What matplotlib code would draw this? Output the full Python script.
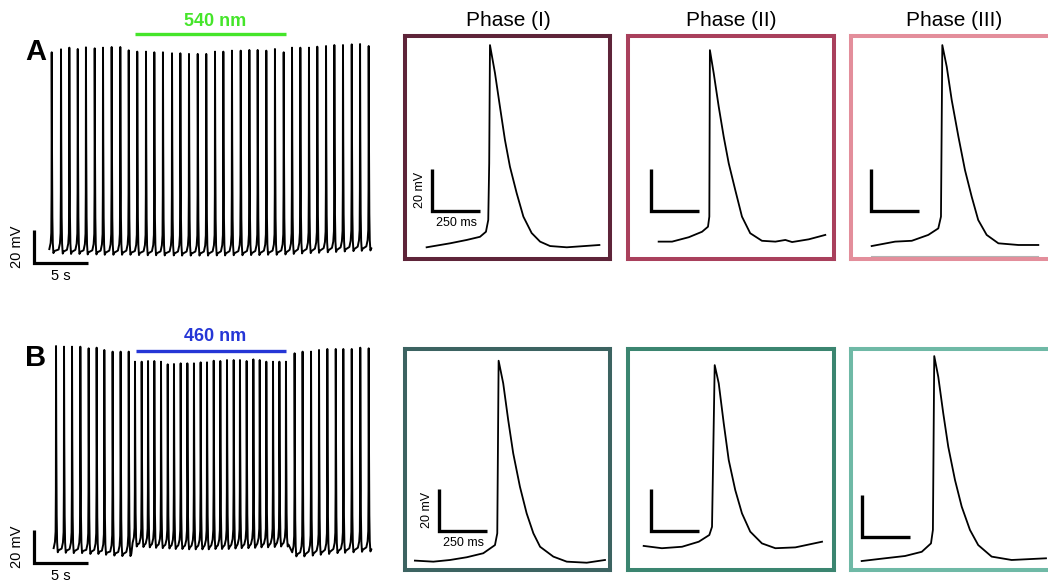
import matplotlib.pyplot as plt

plt.rcParams['font.family'] = ['Liberation Sans', 'DejaVu Sans']

W, H = 1048, 582

# ---- long recordings: spike times (s), peaks and troughs (mV) ----
a_spike_t = [1.64, 2.50, 3.27, 4.05, 4.81, 5.62, 6.39, 7.19, 7.99, 8.77,
             9.56, 10.37, 11.14, 11.94, 12.78, 13.55, 14.35, 15.16, 15.95,
             16.76, 17.53, 18.33, 19.14, 19.94, 20.71, 21.51, 22.31, 23.12,
             23.89, 24.66, 25.46, 26.23, 27.04, 27.81, 28.61, 29.42, 30.19, 30.99]
a_peak = [57.7, 59.5, 60.5, 59.7, 60.7, 60.1, 60.5, 60.9, 60.9, 58.9,
          58.1, 58.1, 57.7, 57.7, 57.1, 57.1, 56.7, 56.7, 56.7,
          58.1, 58.1, 58.7, 58.7, 59.1, 59.1, 58.7, 59.7, 57.7,
          60.5, 60.5, 60.5, 61.1, 61.5, 62.1, 62.1, 62.5, 62.7, 61.5]
a_trough = [-64.0, -64.3, -64.5, -64.5, -64.8, -64.8, -65.0, -65.0, -65.0, -65.0,
            -65.2, -65.3, -65.3, -65.4, -65.4, -65.5, -65.5, -65.5, -65.5,
            -65.4, -65.4, -65.3, -65.3, -65.2, -65.2, -65.0, -65.0, -64.8,
            -64.5, -64.2, -64.0, -63.8, -63.5, -63.3, -63.0, -62.8, -62.6, -62.4]
a_light = (9.35, 23.3)
a_label = '540 nm'

b_spike_t = [2.04, 2.78, 3.52, 4.29, 5.06, 5.80, 6.51, 7.28, 8.02, 8.77,
             9.35, 9.97, 10.56, 11.14, 11.76, 12.38, 12.96, 13.58, 14.20, 14.81,
             15.43, 16.02, 16.64, 17.25, 17.87, 18.49, 19.07, 19.69, 20.31, 20.90,
             21.51, 22.13, 22.72, 23.33,
             24.13, 24.87, 25.65, 26.39, 27.16, 27.94, 28.64, 29.42, 30.21, 30.99]
b_peak = [61.5, 61.1, 61.1, 61.1, 60.1, 60.5, 59.1, 58.1, 58.1, 58.1,
          52.0, 52.0, 52.4, 52.4, 52.0, 50.4, 50.6, 51.0, 51.0, 51.0,
          51.6, 51.6, 52.6, 52.4, 53.0, 53.0, 53.0, 52.4, 53.4, 53.0,
          52.0, 52.0, 52.0, 52.0,
          57.1, 58.1, 58.1, 59.1, 59.7, 59.7, 59.7, 59.7, 60.5, 60.1]
b_trough = [-63.5, -63.8, -64.0, -64.0, -64.5, -64.5, -65.0, -65.5, -65.8, -65.8,
            -60.0, -60.3, -60.5, -60.8, -61.0, -61.2, -61.5, -61.5, -61.7, -61.7,
            -61.7, -61.7, -61.5, -61.5, -61.5, -61.2, -61.0, -61.0, -60.8, -60.5,
            -60.5, -60.3, -60.0, -60.0,
            -66.0, -66.0, -65.5, -65.0, -64.5, -64.0, -63.8, -63.5, -63.2, -63.0]
b_light = (9.44, 23.33)
b_label = '460 nm'

# shape of one spike in the long recordings (s from peak, fraction of height)
shape_dt = [-0.22, -0.10, -0.04, -0.015, 0.0, 0.025, 0.06, 0.10, 0.16, 0.24]
shape_frac = [0.02, 0.05, 0.10, 0.30, 1.0, 0.55, 0.18, 0.05, 0.0, 0.01]

# ---- single action potentials per phase (ms, mV) ----
phases = ['Phase (I)', 'Phase (II)', 'Phase (III)']

top1_t = [123, 245, 332, 401, 432, 444, 449, 453, 479, 505, 531, 557, 592, 627, 670, 714, 766, 853, 1023]
top1_v = [-63.0, -61.1, -59.5, -58.0, -55.6, -50.0, -22.9, 33.3, 20.0, 3.9, -11.9, -24.6, -37.2, -48.4,
          -56.2, -60.3, -62.4, -63.0, -61.9]
top2_t = [170, 240, 327, 396, 427, 434, 437, 457, 483, 509, 535, 569, 604, 647, 708, 778, 830, 865, 952, 1038]
top2_v = [-60.3, -60.3, -58.2, -55.6, -53.2, -48.4, 30.9, 19.8, 3.9, -10.4, -23.0, -35.7, -48.4, -56.3,
          -59.9, -60.3, -59.5, -60.5, -59.2, -57.1]
top3_t = [118, 240, 327, 413, 465, 479, 486, 509, 535, 570, 604, 639, 673, 717, 778, 882, 986]
top3_v = [-62.4, -60.3, -59.9, -57.1, -54.0, -48.4, 33.3, 23.0, 7.1, -10.4, -26.2, -38.9, -50.0, -57.1,
          -61.1, -61.9, -61.9]

bot1_t = [62, 158, 245, 332, 418, 479, 491, 498, 522, 548, 574, 609, 644, 679, 714, 783, 853, 957, 1052]
bot1_v = [-64.1, -64.6, -63.8, -62.5, -60.6, -56.7, -51.1, 31.1, 20.3, 2.8, -13.0, -28.9, -41.6, -51.1,
          -57.5, -62.2, -64.6, -65.1, -63.8]
bot2_t = [92, 187, 292, 379, 434, 448, 462, 483, 509, 535, 569, 604, 647, 708, 778, 882, 1021]
bot2_v = [-57.1, -58.2, -57.5, -55.1, -51.9, -48.0, 29.0, 20.3, 1.3, -16.2, -30.5, -41.6, -50.3, -55.9,
          -58.2, -57.8, -55.1]
bot3_t = [66, 187, 292, 379, 427, 437, 444, 465, 491, 517, 552, 587, 630, 673, 743, 847, 1026]
bot3_v = [-64.3, -63.0, -61.9, -59.9, -55.9, -49.5, 33.3, 23.4, 6.0, -9.9, -25.7, -38.4, -49.5, -56.7,
          -62.2, -63.8, -63.0]

top_colors = ['#5e2439', '#a9405c', '#e38e9b']
bot_colors = ['#3c6361', '#3b8570', '#6fb9a6']

# scale bar corners inside the boxes (ms, mV)
top_bars = [(153, -45.7), (130, -45.7), (115, -45.7)]
bot_bars = [(189, -49.9), (132, -49.9), (66, -52.7)]

fig = plt.figure(figsize=(W / 100, H / 100), dpi=100)


def px_axes(x0, y0, x1, y1):
    return fig.add_axes([x0 / W, 1 - y1 / H, (x1 - x0) / W, (y1 - y0) / H])


def long_trace(ts, peaks, troughs):
    t, v = [], []
    for ti, p, b in zip(ts, peaks, troughs):
        for d, f in zip(shape_dt, shape_frac):
            t.append(ti + d)
            v.append(b + f * (p - b))
    return t, v


PX_S, PX_MVL = 10.8, 1.65   # long traces
PX_MS, PX_MV = 0.192, 2.1   # single APs


def long_panel(y_top, ts, peaks, troughs, light, label, lcolor, bar_v, txt_v):
    ax = px_axes(34, y_top, 384, y_top + 233)
    ax.set_xlim(0, 350 / PX_S)
    ax.set_ylim(-70, -70 + 233 / PX_MVL)
    ax.axis('off')
    t, v = long_trace(ts, peaks, troughs)
    ax.plot(t, v, color='black', lw=1.4)
    ax.plot([0, 0, 5], [-50, -70, -70], color='black', lw=2.3, clip_on=False,
            solid_joinstyle='miter', solid_capstyle='butt')
    ax.text(-1.57, -60.3, '20 mV', rotation=90, ha='center', va='center', fontsize=10.5)
    ax.text(2.5, -77.6, '5 s', ha='center', va='center', fontsize=10.5, clip_on=False)
    ax.plot(light, [bar_v, bar_v], color=lcolor, lw=2.4, clip_on=False, solid_capstyle='butt')
    ax.text(16.8, txt_v, label, color=lcolor, ha='center', va='center',
            fontsize=13, fontweight='bold')
    return ax


long_panel(30, a_spike_t, a_peak, a_trough, a_light, a_label, '#45e52a', 68.6, 76.1)
long_panel(330, b_spike_t, b_peak, b_trough, b_light, b_label, '#2536d6', 58.7, 67.2)

fig.text(36 / W, 1 - 52 / H, 'A', ha='center', va='center', fontsize=21, fontweight='bold')
fig.text(36 / W, 1 - 358 / H, 'B', ha='center', va='center', fontsize=21, fontweight='bold')


def box_panel(x0, y0, x1, y1, y_ref, color, t, v, bar, labels):
    ax = px_axes(x0 + 2, y0 + 2, x1 - 2, y1 - 2)
    ax.set_xlim(2 / PX_MS, (x1 - x0 - 2) / PX_MS)
    ax.set_ylim(-70 + (y_ref - (y1 - 2)) / PX_MV, -70 + (y_ref - (y0 + 2)) / PX_MV)
    ax.set_xticks([])
    ax.set_yticks([])
    for s in ax.spines.values():
        s.set_color(color)
        s.set_linewidth(2.9)
    ax.plot(t, v, color='black', lw=1.3)
    bt, bv = bar
    ax.plot([bt, bt, bt + 250], [bv + 20, bv, bv], color='black', lw=2.4,
            solid_joinstyle='miter', solid_capstyle='butt')
    if labels:
        ax.text(bt - 66, bv + 10, '20 mV', rotation=90, ha='center', va='center', fontsize=9)
        ax.text(bt + 126, bv - 5.8, '250 ms', ha='center', va='center', fontsize=9)
    return ax


top_x = [(403, 612), (626, 836), (849, 1058)]
top_traces = [(top1_t, top1_v), (top2_t, top2_v), (top3_t, top3_v)]
bot_traces = [(bot1_t, bot1_v), (bot2_t, bot2_v), (bot3_t, bot3_v)]

for i, (x0, x1) in enumerate(top_x):
    ax = box_panel(x0, 34, x1, 261, 262, top_colors[i], *top_traces[i], top_bars[i], i == 0)
    if i == 2:
        # faint grey line under the third trace
        ax.plot([118, 986], [-67.5, -67.5], color='#b4b4b4', lw=1.5)
    fig.text((x0 + 105) / W, 1 - 20 / H, phases[i], ha='center', va='center', fontsize=15)

for i, (x0, x1) in enumerate(top_x):
    box_panel(x0, 347, x1, 572, 573, bot_colors[i], *bot_traces[i], bot_bars[i], i == 0)

fig.savefig('out.png', dpi=100)
